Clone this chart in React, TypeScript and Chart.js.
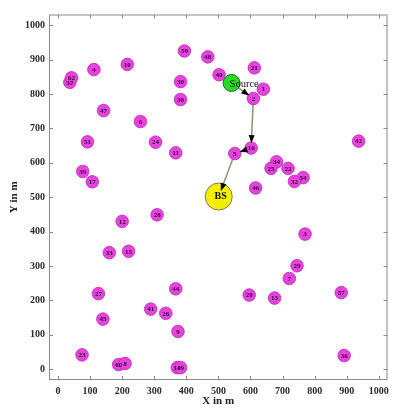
import React, { useEffect, useRef } from "react";
import { Chart, registerables } from "chart.js";

Chart.register(...registerables);

// Sensor node ids and positions (metres)
const nodeIds = [
  "59", "37", "62", "4", "10", "30", "38", "47", "6", "51", "24", "11", "39", "17",
  "48", "40", "21", "1", "2", "16", "5", "42", "34", "25", "22", "54", "32", "46",
  "28", "12", "33", "15", "27", "44", "41", "26", "45", "9", "23", "60", "8", "14", "19",
  "3", "29", "7", "20", "13", "57", "36",
];
const nodeX = [
  394, 37, 42, 112, 216, 382, 382, 142, 257, 92, 304, 367, 77, 107,
  467, 502, 612, 640, 609, 602, 551, 937, 681, 664, 717, 764, 737, 616,
  309, 200, 160, 220, 126, 367, 289, 336, 140, 374, 75, 189, 209, 372, 382,
  770, 745, 721, 596, 675, 883, 892,
];
const nodeY = [
  925, 834, 847, 871, 886, 836, 784, 752, 720, 661, 660, 629, 575, 545,
  908, 856, 876, 814, 787, 643, 627, 663, 603, 584, 584, 557, 546, 527,
  449, 430, 339, 343, 220, 234, 175, 163, 146, 110, 42, 14, 17, 5, 5,
  393, 301, 264, 216, 207, 223, 40,
];

// Source and base station
const sourceX = [541];
const sourceY = [832];
const bsX = [501];
const bsY = [502];

// Multi-hop route from the source to the base station
const routeX = [541, 609, 602, 551, 501];
const routeY = [832, 787, 643, 627, 502];

// Axis ranges and tick values
const xRange = [-28, 1027];
const yRange = [-31, 1031];
const tickValues = [0, 100, 200, 300, 400, 500, 600, 700, 800, 900, 1000];

const SERIF = "'Liberation Serif', 'Times New Roman', serif";

const framePlugin = {
  id: "frame",
  beforeDatasetsDraw(chart: any) {
    const { ctx, chartArea: a, scales } = chart;
    ctx.save();
    ctx.strokeStyle = "#8a8a8a";
    ctx.lineWidth = 1;
    ctx.strokeRect(a.left + 0.5, a.top + 0.5, a.right - a.left - 1, a.bottom - a.top - 1);
    ctx.beginPath();
    const len = 4;
    for (const v of tickValues) {
      const px = Math.round(scales.x.getPixelForValue(v)) + 0.5;
      ctx.moveTo(px, a.bottom);
      ctx.lineTo(px, a.bottom - len);
      ctx.moveTo(px, a.top);
      ctx.lineTo(px, a.top + len);
      const py = Math.round(scales.y.getPixelForValue(v)) + 0.5;
      ctx.moveTo(a.left, py);
      ctx.lineTo(a.left + len, py);
      ctx.moveTo(a.right, py);
      ctx.lineTo(a.right - len, py);
    }
    ctx.stroke();

    // route segments, beneath the node markers
    ctx.strokeStyle = "#8d9a7e";
    ctx.lineWidth = 1.6;
    ctx.beginPath();
    for (let i = 0; i < routeX.length; i++) {
      const px = scales.x.getPixelForValue(routeX[i]);
      const py = scales.y.getPixelForValue(routeY[i]);
      if (i === 0) ctx.moveTo(px, py);
      else ctx.lineTo(px, py);
    }
    ctx.stroke();
    ctx.restore();
  },
  afterDatasetsDraw(chart: any) {
    const { ctx, scales } = chart;
    ctx.save();
    // arrowheads pointing at each hop's receiver
    ctx.fillStyle = "#000";
    for (let i = 1; i < routeX.length; i++) {
      const x0 = scales.x.getPixelForValue(routeX[i - 1]);
      const y0 = scales.y.getPixelForValue(routeY[i - 1]);
      const x1 = scales.x.getPixelForValue(routeX[i]);
      const y1 = scales.y.getPixelForValue(routeY[i]);
      const ang = Math.atan2(y1 - y0, x1 - x0);
      const back = i === routeX.length - 1 ? 6 : 5;
      const tx = x1 - Math.cos(ang) * back;
      const ty = y1 - Math.sin(ang) * back;
      const hl = 8;
      const hw = 3;
      const bx = tx - Math.cos(ang) * hl;
      const by = ty - Math.sin(ang) * hl;
      ctx.beginPath();
      ctx.moveTo(tx, ty);
      ctx.lineTo(bx - Math.sin(ang) * hw, by + Math.cos(ang) * hw);
      ctx.lineTo(bx + Math.sin(ang) * hw, by - Math.cos(ang) * hw);
      ctx.closePath();
      ctx.fill();
    }

    // node id labels
    const meta = chart.getDatasetMeta(0);
    ctx.fillStyle = "#2a0a2a";
    ctx.font = `bold 7px ${SERIF}`;
    ctx.textAlign = "center";
    ctx.textBaseline = "middle";
    meta.data.forEach((el: any, i: number) => {
      ctx.fillText(nodeIds[i], el.x, el.y + 0.5);
    });

    // source and base station labels
    const s = chart.getDatasetMeta(1).data[0];
    ctx.fillStyle = "#111";
    ctx.font = `10.5px ${SERIF}`;
    ctx.textAlign = "left";
    ctx.fillText("Source", s.x - 2, s.y + 1);
    const b = chart.getDatasetMeta(2).data[0];
    ctx.font = `bold 10px ${SERIF}`;
    ctx.textAlign = "center";
    ctx.fillText("BS", b.x + 2, b.y);
    ctx.restore();
  },
};

export default function App() {
  const ref = useRef<HTMLCanvasElement | null>(null);

  useEffect(() => {
    if (!ref.current) return;
    const tickFont = { family: SERIF, size: 10, weight: "bold" as const };
    const titleFont = { family: SERIF, size: 11, weight: "bold" as const };
    const plain = (v: any) => String(v);
    const chart = new Chart(ref.current, {
      type: "scatter",
      data: {
        datasets: [
          {
            label: "Nodes",
            data: nodeX.map((x, i) => ({ x, y: nodeY[i] })),
            pointRadius: 6.3,
            pointBackgroundColor: "rgb(230,66,222)",
            pointBorderColor: "rgb(190,40,180)",
            pointBorderWidth: 0.8,
          },
          {
            label: "Source",
            data: sourceX.map((x, i) => ({ x, y: sourceY[i] })),
            pointRadius: 8.5,
            pointBackgroundColor: "#22dd22",
            pointBorderColor: "#3a5a3a",
            pointBorderWidth: 1,
          },
          {
            label: "BS",
            data: bsX.map((x, i) => ({ x, y: bsY[i] })),
            pointRadius: 13.5,
            pointBackgroundColor: "#f4ee00",
            pointBorderColor: "#7a7a60",
            pointBorderWidth: 1,
          },
        ],
      },
      options: {
        responsive: false,
        animation: false,
        layout: { padding: { top: 10, right: 1, left: 0, bottom: 0 } },
        plugins: { legend: { display: false }, tooltip: { enabled: false } },
        scales: {
          x: {
            type: "linear",
            min: xRange[0],
            max: xRange[1],
            grid: { display: false, drawTicks: false },
            border: { display: false },
            afterBuildTicks: (s: any) => {
              s.ticks = tickValues.map((value) => ({ value }));
            },
            afterFit: (s: any) => {
              s.height = 30;
            },
            ticks: { color: "#2a2a2a", font: tickFont, padding: 5, maxRotation: 0, callback: plain },
            title: {
              display: true,
              text: "X in m",
              color: "#222",
              font: titleFont,
              padding: { top: 0, bottom: 2 },
            },
          },
          y: {
            type: "linear",
            min: yRange[0],
            max: yRange[1],
            grid: { display: false, drawTicks: false },
            border: { display: false },
            afterBuildTicks: (s: any) => {
              s.ticks = tickValues.map((value) => ({ value }));
            },
            afterFit: (s: any) => {
              s.width = 49;
            },
            ticks: { color: "#2a2a2a", font: tickFont, padding: 4, callback: plain },
            title: {
              display: true,
              text: "Y in m",
              color: "#222",
              font: titleFont,
              padding: { top: 8, bottom: 0 },
            },
          },
        },
      },
      plugins: [framePlugin],
    });
    return () => chart.destroy();
  }, []);

  return (
    <div style={{ position: "absolute", left: 0, top: 0, width: 402, height: 410, background: "#fff" }}>
      <canvas ref={ref} width={402} height={410} style={{ display: "block" }} />
    </div>
  );
}
